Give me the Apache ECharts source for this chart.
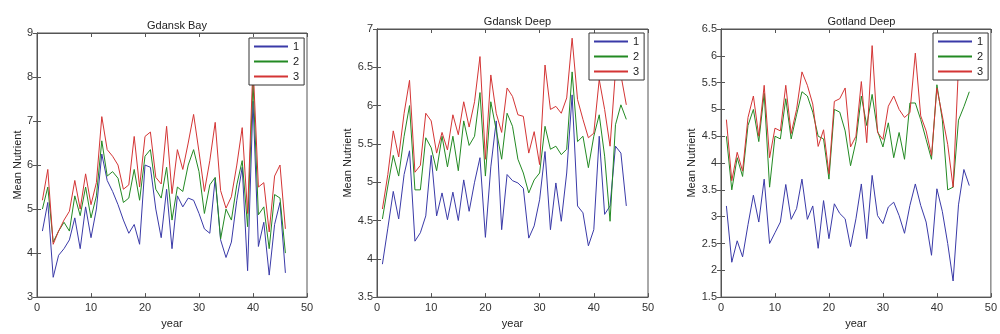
<!DOCTYPE html>
<html>
<head>
<meta charset="utf-8">
<script src="https://cdn.jsdelivr.net/npm/echarts/dist/echarts.min.js"></script>
<style>
html,body{margin:0;padding:0;background:#fff;}
#c{width:1000px;height:334px;}
</style>
</head>
<body>
<div id="c"></div>
<script>
// ---- data ----
var years = [1,2,3,4,5,6,7,8,9,10,11,12,13,14,15,16,17,18,19,20,21,22,23,24,25,26,27,28,29,30,31,32,33,34,35,36,37,38,39,40,41,42,43,44,45,46];
var seriesNames = ['1', '2', '3'];
var panelTitles = ['Gdansk Bay', 'Gdansk Deep', 'Gotland Deep'];
var xTicks = [0, 10, 20, 30, 40, 50];
var yRangeBay = [3, 9, 1];
var yRangeGdDeep = [3.5, 7, 0.5];
var yRangeGotland = [1.5, 6.5, 0.5];

var bay1 = [4.5,5.15,3.45,3.95,4.1,4.3,4.8,4.1,5.05,4.35,5.0,6.25,5.65,5.4,5.1,4.75,4.45,4.65,4.2,6.0,5.95,5.0,4.35,5.45,4.1,5.3,5.05,5.25,5.2,4.9,4.55,4.45,5.7,4.3,3.9,4.25,5.2,5.95,3.6,7.45,4.15,4.7,3.5,4.65,5.15,3.55];
var bay2 = [5.0,5.5,4.25,4.5,4.7,4.5,5.3,4.85,5.5,4.8,5.3,6.55,5.75,5.85,5.7,5.15,5.25,5.9,5.2,6.2,6.35,5.45,5.25,5.95,4.75,5.5,5.4,6.0,6.35,5.85,4.9,5.55,5.72,4.32,5.0,4.75,5.55,6.1,4.6,7.9,4.87,5.05,4.1,5.33,5.25,4.0];
var bay3 = [5.2,5.9,4.2,4.5,4.75,4.95,5.65,5.0,5.8,5.1,5.6,7.1,6.35,6.2,6.0,5.45,5.55,6.65,5.5,6.65,6.75,5.72,5.57,6.88,5.35,6.35,5.9,6.5,7.15,6.3,5.4,6.1,6.97,5.42,5.02,5.28,6.0,6.85,4.9,8.3,5.5,5.6,4.48,5.75,6.0,4.55];

var gd1 = [3.93,4.4,4.88,4.52,5.1,5.41,4.23,4.34,4.56,5.35,4.56,4.86,4.51,4.87,4.5,5.03,4.62,5.0,5.32,4.28,5.2,5.8,4.38,5.1,5.02,4.99,4.92,4.27,4.43,4.77,5.4,4.38,4.99,4.49,5.12,6.14,4.69,4.6,4.17,4.38,5.6,4.58,4.69,5.47,5.38,4.69];
var gd2 = [4.52,4.95,5.35,5.08,5.6,6.0,4.9,4.9,5.58,5.45,5.15,5.6,5.2,5.6,5.15,5.8,5.48,5.6,6.17,5.08,6.05,5.68,5.3,5.9,5.73,5.3,5.12,4.86,5.03,5.12,5.73,5.43,5.47,5.36,5.43,6.44,5.53,5.6,5.19,5.6,5.88,5.34,4.49,5.75,6.01,5.82];
var gd3 = [4.65,5.1,5.67,5.33,5.9,6.33,5.13,5.22,5.9,5.8,5.38,5.65,5.42,5.88,5.62,6.05,5.72,6.05,6.64,5.3,6.4,5.9,5.65,6.23,6.12,5.88,5.86,5.38,5.66,5.23,6.53,5.95,5.99,5.9,6.1,6.88,6.08,5.82,5.58,5.64,6.34,5.95,5.47,6.45,6.4,6.01];

var got1 = [3.2,2.15,2.55,2.25,2.85,3.4,2.9,3.7,2.5,2.7,2.9,3.6,2.95,3.15,3.7,2.95,3.2,2.41,3.3,2.59,3.24,3.06,2.96,2.44,2.96,3.61,2.59,3.77,3.02,2.87,3.18,3.27,3.02,2.69,3.21,3.61,3.21,2.9,2.28,3.52,3.1,2.5,1.8,3.22,3.88,3.58];
var got2 = [4.5,3.5,4.1,3.75,4.7,5.0,4.4,5.3,3.55,4.5,4.45,5.2,4.45,4.9,5.33,5.25,4.95,4.5,4.45,3.7,5.0,4.95,4.6,3.95,4.4,5.25,4.7,5.28,4.6,4.3,4.75,4.1,4.57,4.07,5.12,5.12,4.81,4.44,4.07,5.46,4.81,3.5,3.55,4.8,5.05,5.33];
var got3 = [4.81,3.67,4.2,3.85,4.85,5.25,4.5,5.45,4.1,4.65,4.6,5.45,4.55,5.0,5.7,5.45,5.1,4.31,4.62,3.8,5.15,5.2,5.4,4.3,4.5,5.52,4.38,6.19,4.57,4.44,5.06,5.25,5.0,4.85,4.94,6.05,4.88,4.6,4.14,5.4,4.88,4.35,3.55,5.8,6.0,6.1];

var panelData = [[bay1, bay2, bay3], [gd1, gd2, gd3], [got1, got2, got3]];
var yRanges = [yRangeBay, yRangeGdDeep, yRangeGotland];

// ---- layout ----
var grids = [
  {left: 37, top: 33, width: 270, height: 269},
  {left: 377, top: 29, width: 271, height: 269},
  {left: 721, top: 29, width: 271, height: 270}
];
var titleTops = [15, 11, 11];
var yNameGaps = [14, 23, 23];
var xNameGaps = [19, 19, 18];
var legendPos = [[249, 38], [589, 33], [933, 33]];
var colors = ['#3a3aa8', '#238a23', '#d43535'];
var FONT = 'Liberation Sans, Arial, Helvetica, sans-serif';
var frameColor = '#555';

var option = {
  backgroundColor: '#fff',
  animation: false,
  color: colors,
  textStyle: {fontFamily: FONT},
  grid: [], xAxis: [], yAxis: [], series: [], title: [], legend: []
};

for (var p = 0; p < 3; p++) {
  var g = grids[p];
  option.grid.push({left: g.left, top: g.top, width: g.width, height: g.height, containLabel: false, show: true, borderColor: frameColor, borderWidth: 1, backgroundColor: '#fff'});
  option.title.push({
    text: panelTitles[p], left: g.left + g.width / 2, top: titleTops[p], textAlign: 'center',
    textStyle: {fontSize: 11, fontWeight: 'normal', color: '#222', fontFamily: FONT}
  });
  var xBase = {
    type: 'value', gridIndex: p, min: xTicks[0], max: xTicks[xTicks.length - 1], interval: xTicks[1] - xTicks[0],
    splitLine: {show: false},
    axisLine: {show: true, lineStyle: {color: frameColor, width: 1}},
    axisTick: {show: true, inside: true, length: 4, lineStyle: {color: frameColor}}
  };
  option.xAxis.push(Object.assign({}, xBase, {
    position: 'bottom', name: 'year', nameLocation: 'middle', nameGap: xNameGaps[p],
    nameTextStyle: {fontSize: 11, color: '#222', fontFamily: FONT},
    axisLabel: {show: true, fontSize: 11, color: '#333', margin: 5, fontFamily: FONT}
  }));
  option.xAxis.push(Object.assign({}, xBase, {position: 'top', axisLabel: {show: false}}));
  var yr = yRanges[p];
  var yBase = {
    type: 'value', gridIndex: p, min: yr[0], max: yr[1], interval: yr[2],
    splitLine: {show: false},
    axisLine: {show: true, lineStyle: {color: frameColor, width: 1}},
    axisTick: {show: true, inside: true, length: 4, lineStyle: {color: frameColor}}
  };
  option.yAxis.push(Object.assign({}, yBase, {
    position: 'left', name: 'Mean Nutrient', nameLocation: 'middle', nameGap: yNameGaps[p], nameRotate: 90,
    nameTextStyle: {fontSize: 11, color: '#222', fontFamily: FONT},
    axisLabel: {show: true, fontSize: 11, color: '#333', margin: 4, fontFamily: FONT}
  }));
  option.yAxis.push(Object.assign({}, yBase, {position: 'right', axisLabel: {show: false}}));

  for (var s = 0; s < 3; s++) {
    var vals = panelData[p][s];
    var pts = [];
    for (var i = 0; i < years.length; i++) pts.push([years[i], vals[i]]);
    option.series.push({
      type: 'line', name: seriesNames[s], xAxisIndex: 2 * p, yAxisIndex: 2 * p,
      data: pts, symbol: 'none', showSymbol: false, smooth: false, color: colors[s],
      lineStyle: {color: colors[s], width: 1}, itemStyle: {color: colors[s]},
      emphasis: {disabled: true}, z: 2 + s * 0.01
    });
  }

  option.legend.push({
    left: legendPos[p][0], top: legendPos[p][1], orient: 'vertical',
    data: seriesNames, itemWidth: 34, itemHeight: 0.2, itemGap: 4,
    padding: [3, 5, 3, 4], borderColor: '#333', borderWidth: 1, backgroundColor: '#fff',
    selectedMode: false, textStyle: {fontSize: 11, lineHeight: 11, color: '#222', fontFamily: FONT}, z: 10
  });
}

var chart = echarts.init(document.getElementById('c'), null, {renderer: 'canvas'});
chart.setOption(option);
</script>
</body>
</html>
